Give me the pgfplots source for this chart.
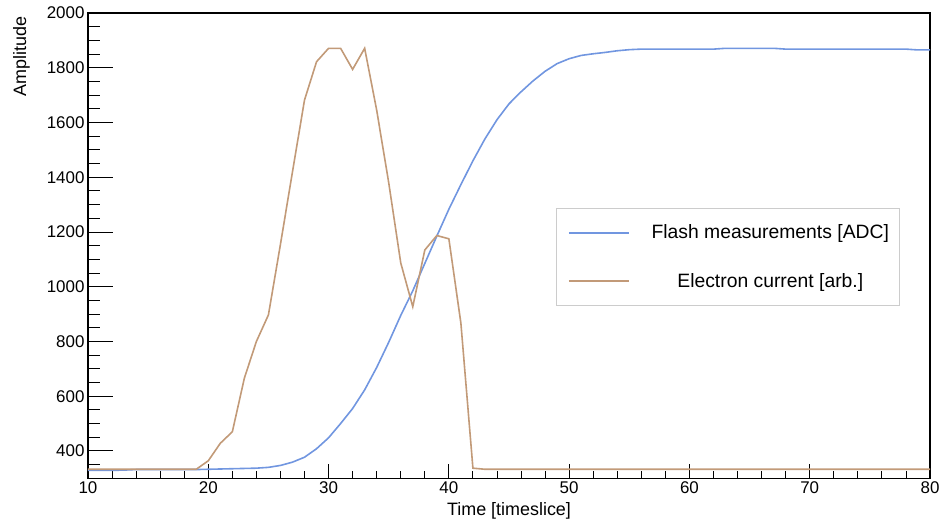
\documentclass[border=0pt]{standalone}
\usepackage{fontspec}
\setmainfont{Liberation Sans}
\usepackage{pgfplots}
\pgfplotsset{compat=1.18}
\definecolor{flash}{RGB}{113,150,224}
\definecolor{elec}{RGB}{194,154,120}
\pgfplotstableread{
x y
10 329
11 329
12 329
13 330
14 332
15 332
16 332
17 332
18 332
19 332
20 333
21 334
22 335
23 336
24 337
25 340
26 347
27 359
28 377
29 408
30 448
31 500
32 555
33 623
34 705
35 797
36 895
37 985
38 1085
39 1185
40 1283
41 1373
42 1460
43 1540
44 1610
45 1668
46 1712
47 1752
48 1787
49 1815
50 1833
51 1845
52 1851
53 1856
54 1862
55 1866
56 1868
57 1868
58 1868
59 1868
60 1868
61 1868
62 1868
63 1871
64 1871
65 1871
66 1871
67 1871
68 1868
69 1868
70 1868
71 1868
72 1868
73 1868
74 1868
75 1868
76 1868
77 1868
78 1868
79 1865
80 1865
}\flashdata
\pgfplotstableread{
x y
10 333
11 333
12 333
13 333
14 333
15 333
16 333
17 333
18 333
19 333
20 364
21 428
22 470
23 666
24 800
25 897
26 1155
27 1420
28 1682
29 1822
30 1871
31 1871
32 1794
33 1871
34 1645
35 1380
36 1087
37 927
38 1134
39 1187
40 1175
41 867
42 337
43 333
44 333
45 333
50 333
55 333
60 333
65 333
70 333
75 333
80 333
}\elecdata
\begin{document}
\begin{tikzpicture}
\begin{axis}[
  name=ax,
  scale only axis, width=842bp, height=465.3bp,
  xmin=10, xmax=80, ymin=300, ymax=2000,
  xtick={10,20,...,80}, minor xtick={10,12,...,80},
  ytick={400,600,...,2000}, minor ytick={300,350,...,2000},
  tick align=inside, tick pos=left,
  major tick length=25bp, minor tick length=12bp,
  major x tick style={/pgfplots/major tick length=14bp},
  minor x tick style={/pgfplots/minor tick length=7bp},
  tick style={black, line width=0.9bp},
  x axis line style={draw=gray, line width=1.2bp},
  y axis line style={draw=black, line width=1.2bp},
  /pgf/number format/assume math mode=true,
  /pgf/number format/1000 sep={},
  tick label style={font=\fontsize{17}{20}\selectfont},
  xlabel={Time [timeslice]},
  ylabel={Amplitude},
  label style={font=\fontsize{18}{21}\selectfont},
  xlabel style={at={(axis description cs:0.5,-0.081)}, anchor=base},
  ylabel style={at={(axis description cs:-0.0736,1)}, anchor=base east},
  legend style={at={(rel axis cs:0.5558,0.5803)}, anchor=north west,
    draw=black!20, fill=white,
    inner xsep=12bp, inner ysep=16.5bp, row sep=33bp, column sep=24bp,
    font=\fontsize{19.4}{22}\selectfont, nodes={inner sep=0pt}},
  legend image code/.code={\draw[#1, line width=1.6bp] (0bp,0bp) -- (60bp,0bp);},
]
\addplot[flash, line width=1.6bp] table[x=x,y=y] {\flashdata};
\addlegendentry{\makebox[233bp][c]{Flash measurements [ADC]}}
\addplot[elec, line width=1.6bp] table[x=x,y=y] {\elecdata};
\addlegendentry{\makebox[233bp][c]{Electron current [arb.]}}
\end{axis}
\pgfresetboundingbox
\path[use as bounding box] (ax.south west) ++(-88bp,-41.7bp) rectangle ++(941bp,520bp);
\end{tikzpicture}
\end{document}
